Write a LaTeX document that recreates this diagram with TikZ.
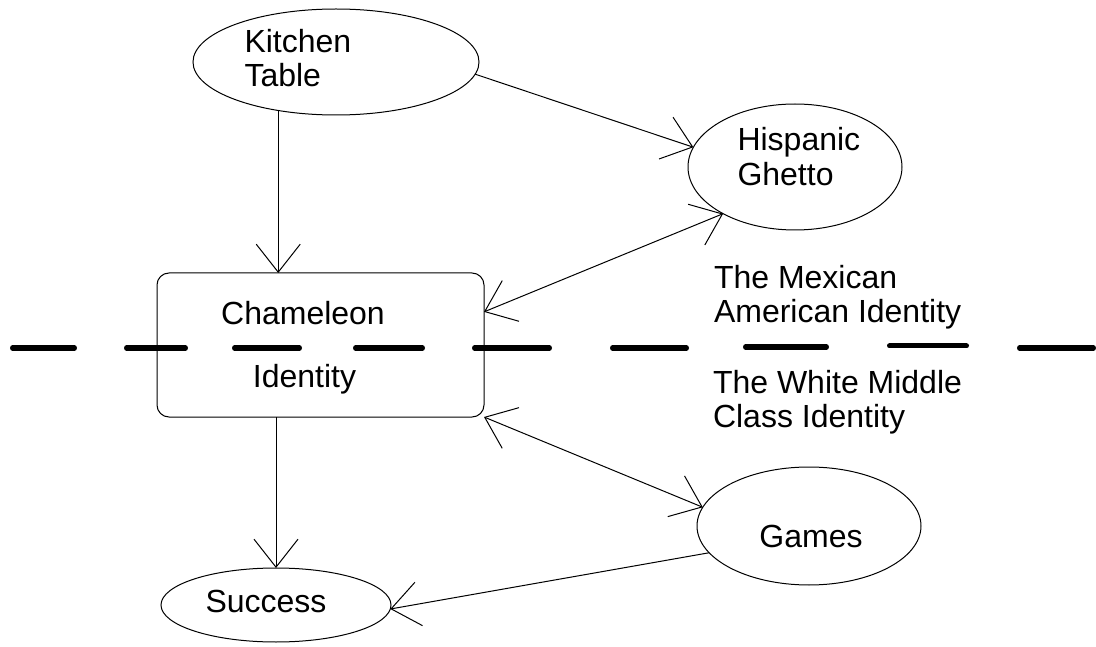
\documentclass[tikz,border=0pt]{standalone}
\usepackage{fontspec}
\setmainfont{Liberation Sans}
\usetikzlibrary{shapes.geometric,arrows.meta,calc}
\begin{document}
\begin{tikzpicture}[x=1pt,y=-1pt,
  every node/.style={font=\fontsize{32}{34}\selectfont, inner sep=0pt, outer sep=0pt},
  oval/.style={draw, ellipse, line width=1pt},
  box/.style={draw, rounded corners=12pt, line width=1pt},
  lbl/.style={align=left, anchor=north west},
  arr/.style={line width=1pt, -{Straight Barb[length=28pt,width=44pt]}},
  darr/.style={line width=1pt, {Straight Barb[length=28pt,width=44pt]}-{Straight Barb[length=28pt,width=44pt]}},
  sepline/.style={line width=5pt, line cap=round}]
\useasboundingbox (0,0) rectangle (1096,647);

% shapes
\node[oval, minimum width=286pt, minimum height=106pt] (kt) at (336,62) {};
\node[lbl] (ktt) at (244.5,29) {Kitchen\\Table};

\node[oval, minimum width=214pt, minimum height=126pt] (hg) at (795,167) {};
\node[lbl] (hgt) at (737.5,127) {Hispanic\\[1pt]Ghetto};

\node[box, minimum width=327pt, minimum height=144pt] (ch) at (320.5,345) {};
\node[anchor=base] (cht1) at (303,324) {Chameleon};
\node[anchor=base] (cht2) at (304.5,388) {Identity};

\node[lbl] (mx) at (714,265) {The Mexican\\American Identity};
\node[lbl] (wm) at (713,370) {The White Middle\\Class Identity};

\node[oval, minimum width=224pt, minimum height=118pt] (gm) at (809,526) {};
\node[anchor=base] (gmt) at (811,547) {Games};

\node[oval, minimum width=230pt, minimum height=74pt] (sc) at (276,605) {};
\node[anchor=base] (sct) at (266,612) {Success};

% dashed separator
\foreach \a/\b/\y in {10/77/348, 124/188/348, 232/302/348, 353/425/348, 472/552/348,
                      610/689/348, 743/829/347, 887/969/346, 1017/1096/348}
  \draw[sepline] (\a+2.5,\y) -- (\b-2.5,\y);

% connectors
\draw[arr] (kt.220) -- (kt.220 |- ch.north);
\draw[arr] (kt.-5) -- (hg.169);
\draw[darr] ($(ch.north east)!0.27!(ch.south east)$) -- (hg.213);
\draw[darr] (ch.south east) -- (gm.170);
\draw[arr] (ch.south -| sc.north) -- (sc.north);
\draw[arr] (gm.195) -- (sc.-2);
\end{tikzpicture}
\end{document}
